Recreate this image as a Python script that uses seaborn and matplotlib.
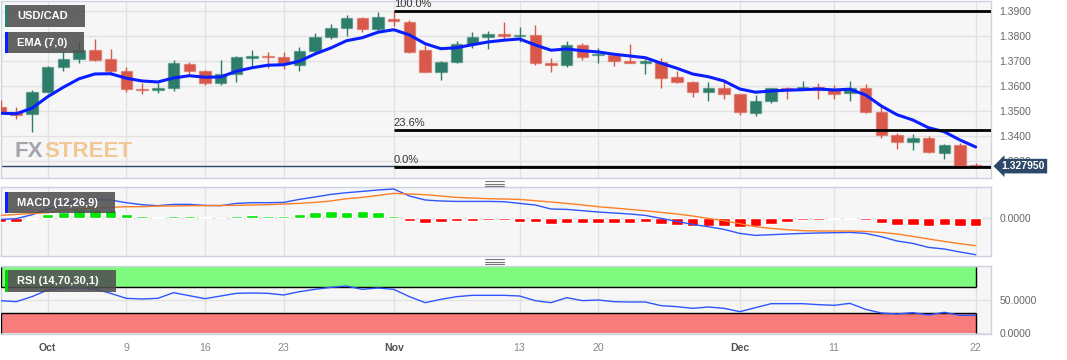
import numpy as np
import pandas as pd
import matplotlib
matplotlib.use("Agg")
import matplotlib.pyplot as plt
import matplotlib.transforms as mtransforms
from matplotlib.patches import Rectangle
from matplotlib.lines import Line2D
from matplotlib.colors import to_rgba
import seaborn as sns

# trading days shown on the chart
dates = pd.bdate_range("2023-09-27", "2023-12-22")

# daily USD/CAD candles
open_px = [1.3515, 1.3495, 1.3487, 1.3576, 1.3676, 1.3707, 1.3744, 1.3707, 1.3661, 1.3589,
           1.3585, 1.3592, 1.3689, 1.3660, 1.3611, 1.3649, 1.3713, 1.3719, 1.3715, 1.3683,
           1.3741, 1.3795, 1.3832, 1.3872, 1.3829, 1.3868, 1.3856, 1.3744, 1.3656, 1.3696,
           1.3767, 1.3797, 1.3809, 1.3800, 1.3804, 1.3692, 1.3683, 1.3763, 1.3723, 1.3725,
           1.3699, 1.3693, 1.3696, 1.3635, 1.3616, 1.3575, 1.3593, 1.3567, 1.3493, 1.3540,
           1.3592, 1.3588, 1.3596, 1.3587, 1.3571, 1.3591, 1.3497, 1.3403, 1.3377, 1.3392,
           1.3333, 1.3365, 1.3285]
high_px = [1.3544, 1.3515, 1.3584, 1.3679, 1.3735, 1.3779, 1.3787, 1.3747, 1.3677, 1.3613,
           1.3613, 1.3703, 1.3697, 1.3664, 1.3703, 1.3720, 1.3743, 1.3735, 1.3737, 1.3755,
           1.3811, 1.3848, 1.3885, 1.3877, 1.3895, 1.3899, 1.3864, 1.3763, 1.3700, 1.3781,
           1.3816, 1.3819, 1.3855, 1.3835, 1.3844, 1.3711, 1.3779, 1.3772, 1.3751, 1.3730,
           1.3768, 1.3708, 1.3712, 1.3661, 1.3621, 1.3616, 1.3621, 1.3568, 1.3563, 1.3593,
           1.3595, 1.3620, 1.3613, 1.3604, 1.3620, 1.3607, 1.3520, 1.3413, 1.3407, 1.3400,
           1.3368, 1.3370, 1.3290]
low_px = [1.3491, 1.3467, 1.3417, 1.3573, 1.3661, 1.3691, 1.3700, 1.3644, 1.3576, 1.3567,
          1.3571, 1.3579, 1.3643, 1.3604, 1.3605, 1.3616, 1.3679, 1.3671, 1.3668, 1.3661,
          1.3733, 1.3788, 1.3800, 1.3815, 1.3813, 1.3841, 1.3731, 1.3655, 1.3625, 1.3691,
          1.3753, 1.3747, 1.3789, 1.3777, 1.3683, 1.3655, 1.3677, 1.3705, 1.3691, 1.3681,
          1.3691, 1.3649, 1.3593, 1.3613, 1.3557, 1.3539, 1.3549, 1.3485, 1.3479, 1.3533,
          1.3547, 1.3584, 1.3549, 1.3549, 1.3540, 1.3493, 1.3392, 1.3347, 1.3345, 1.3333,
          1.3309, 1.3277, 1.3275]
close_px = [1.3497, 1.3485, 1.3576, 1.3676, 1.3707, 1.3744, 1.3704, 1.3661, 1.3589, 1.3583,
            1.3592, 1.3691, 1.3660, 1.3611, 1.3648, 1.3715, 1.3719, 1.3715, 1.3692, 1.3740,
            1.3796, 1.3832, 1.3872, 1.3829, 1.3875, 1.3859, 1.3737, 1.3657, 1.3696, 1.3767,
            1.3796, 1.3808, 1.3800, 1.3804, 1.3693, 1.3683, 1.3764, 1.3715, 1.3728, 1.3699,
            1.3692, 1.3699, 1.3633, 1.3616, 1.3575, 1.3592, 1.3568, 1.3495, 1.3539, 1.3591,
            1.3587, 1.3596, 1.3584, 1.3569, 1.3592, 1.3497, 1.3403, 1.3376, 1.3392, 1.3334,
            1.3365, 1.3280, 1.32795]

# EMA(7) line as drawn on the chart
ema7 = [1.3491, 1.3489, 1.3511, 1.3557, 1.3595, 1.3629, 1.3648, 1.3649, 1.3631, 1.3620,
        1.3616, 1.3632, 1.3641, 1.3635, 1.3636, 1.3659, 1.3673, 1.3683, 1.3685, 1.3699,
        1.3728, 1.3752, 1.3781, 1.3793, 1.3815, 1.3825, 1.3804, 1.3769, 1.3749, 1.3753,
        1.3765, 1.3776, 1.3783, 1.3788, 1.3764, 1.3743, 1.3748, 1.3741, 1.3736, 1.3727,
        1.3720, 1.3713, 1.3691, 1.3671, 1.3648, 1.3637, 1.3620, 1.3588, 1.3575, 1.3580,
        1.3583, 1.3585, 1.3588, 1.3584, 1.3587, 1.3564, 1.3520, 1.3485, 1.3464, 1.3433,
        1.3417, 1.3384, 1.3356]

# MACD (12,26,9)
macd_line = [-0.00017, -0.00010, 0.00030, 0.00083, 0.00137, 0.00170, 0.00180, 0.00177, 0.00150, 0.00130,
             0.00120, 0.00133, 0.00133, 0.00123, 0.00120, 0.00143, 0.00150, 0.00150, 0.00153, 0.00183,
             0.00207, 0.00233, 0.00250, 0.00263, 0.00277, 0.00287, 0.00217, 0.00177, 0.00167, 0.00163,
             0.00163, 0.00163, 0.00160, 0.00143, 0.00127, 0.00087, 0.00083, 0.00070, 0.00057, 0.00047,
             0.00037, 0.00023, -0.00007, -0.00037, -0.00067, -0.00090, -0.00117, -0.00157, -0.00177, -0.00170,
             -0.00163, -0.00157, -0.00153, -0.00150, -0.00147, -0.00157, -0.00190, -0.00233, -0.00257, -0.00297,
             -0.00313, -0.00343, -0.00370]
signal_line = [0.00023, 0.00033, 0.00043, 0.00050, 0.00077, 0.00087, 0.00097, 0.00103, 0.00110, 0.00110,
               0.00117, 0.00117, 0.00120, 0.00120, 0.00123, 0.00123, 0.00127, 0.00130, 0.00137, 0.00143,
               0.00153, 0.00167, 0.00190, 0.00203, 0.00223, 0.00243, 0.00237, 0.00230, 0.00217, 0.00203,
               0.00197, 0.00190, 0.00187, 0.00183, 0.00170, 0.00157, 0.00143, 0.00127, 0.00110, 0.00097,
               0.00083, 0.00070, 0.00053, 0.00037, 0.00017, -0.00007, -0.00030, -0.00060, -0.00090, -0.00107,
               -0.00120, -0.00130, -0.00133, -0.00133, -0.00133, -0.00137, -0.00147, -0.00163, -0.00187, -0.00213,
               -0.00237, -0.00260, -0.00280]
macd_hist = [-0.00040, -0.00043, -0.00013, 0.00033, 0.00060, 0.00083, 0.00085, 0.00073, 0.00040, 0.00020,
             0.00005, 0.00020, 0.00015, 0.00003, -0.00003, 0.00020, 0.00023, 0.00020, 0.00017, 0.00040,
             0.00053, 0.00067, 0.00060, 0.00063, 0.00053, 0.00020, -0.00030, -0.00057, -0.00047, -0.00037,
             -0.00030, -0.00023, -0.00023, -0.00040, -0.00043, -0.00063, -0.00050, -0.00050, -0.00050, -0.00050,
             -0.00050, -0.00047, -0.00067, -0.00073, -0.00083, -0.00083, -0.00083, -0.00097, -0.00087, -0.00063,
             -0.00043, -0.00027, -0.00020, -0.00017, -0.00013, -0.00020, -0.00050, -0.00070, -0.00070, -0.00083,
             -0.00077, -0.00083, -0.00083]

# RSI (14)
rsi = [49, 47.5, 55, 65, 67.5, 68.5, 66.5, 60, 52.5, 51.5,
       52.5, 61, 56.5, 52, 56, 60, 60.5, 60, 57.5, 62.5,
       66, 69, 71, 66, 68, 66, 55, 46, 51, 55,
       57, 57, 57, 56, 49, 46, 53.5, 49, 50, 47.5,
       47, 47, 41.5, 40, 37.5, 39.5, 37.5, 32.5, 38.5, 44.5,
       44.5, 44.5, 43, 42, 45, 36, 30.5, 29, 31, 27.5,
       31.5, 27, 27]

# Fibonacci retracement drawn from Nov 1
fib_start = "2023-11-01"
fib_levels = [1.3899, 1.3424, 1.3277]
fib_labels = ["100.0%", "23.6%", "0.0%"]

price_ticks = [1.33, 1.34, 1.35, 1.36, 1.37, 1.38, 1.39]
tick_dates = ["2023-10-02", "2023-10-09", "2023-10-16", "2023-10-23", "2023-11-01",
              "2023-11-13", "2023-11-20", "2023-12-01", "2023-12-11", "2023-12-22"]
tick_labels = ["Oct", "9", "16", "23", "Nov", "13", "20", "Dec", "11", "22"]

df = pd.DataFrame({"date": dates, "open": open_px, "high": high_px, "low": low_px,
                   "close": close_px, "ema": ema7, "macd": macd_line,
                   "signal": signal_line, "hist": macd_hist, "rsi": rsi})
df["pos"] = np.arange(len(df))
tick_pos = [dates.get_loc(pd.Timestamp(d)) for d in tick_dates]
fib_pos = dates.get_loc(pd.Timestamp(fib_start))

sns.set_style("whitegrid")
plt.rcParams["font.family"] = ["Liberation Sans", "DejaVu Sans"]

W, H = 1067, 360
fig = plt.figure(figsize=(W / 100, H / 100), dpi=100)
fig.patch.set_facecolor("white")


def px_rect(x0, y0, x1, y1):
    return [x0 / W, 1 - y1 / H, (x1 - x0) / W, (y1 - y0) / H]


ax_p = fig.add_axes(px_rect(0.5, 0.7, 990.5, 178))
ax_m = fig.add_axes(px_rect(0.5, 187.3, 990.5, 256))
ax_r = fig.add_axes(px_rect(0.5, 266, 990.5, 334))

GREEN = "#2e7d6b"
RED = "#d8584a"
LINE_BLUE = "#2f55ff"
XMAX = 62.94

for ax in (ax_p, ax_m, ax_r):
    ax.set_facecolor("#f6f6f6")
    for s in ax.spines.values():
        s.set_color("#cdd2e0")
        s.set_linewidth(1)
    ax.grid(True, color="#e2e2e2", linewidth=1)
    ax.set_axisbelow(True)
    ax.set_xlim(0, XMAX)
    ax.set_xticks(tick_pos)
    ax.yaxis.tick_right()
    ax.tick_params(axis="both", length=0, labelsize=7.5, labelcolor="#666666")
    ax.tick_params(axis="y", pad=6.5)

# --- price panel ---
up = df["close"] >= df["open"]
cols = np.where(up, GREEN, RED)
ax_p.vlines(df["pos"], df["low"], df["high"], colors=cols, linewidth=1, zorder=3)
ax_p.bar(df["pos"], df["close"] - df["open"], bottom=df["open"], width=0.73,
         color=cols, edgecolor=[to_rgba(c, 0.45) for c in cols], linewidth=1, zorder=4)
sns.lineplot(x=df["pos"], y=df["ema"], ax=ax_p, color="#0a1fff", linewidth=2.2, zorder=5)

ax_p.axhline(df["close"].iloc[-1], color="#2c4868", linewidth=1, zorder=2)
for lvl, lab in zip(fib_levels, fib_labels):
    ax_p.hlines(lvl, fib_pos, XMAX, color="black", linewidth=2, zorder=6)
    ax_p.annotate(lab, (fib_pos, lvl), xytext=(0, 1.5), textcoords="offset points",
                  ha="left", va="bottom", fontsize=8, color="#333333", zorder=6)

ax_p.set_ylim(1.3232, 1.3941)
ax_p.set_yticks(price_ticks)
ax_p.set_yticklabels([f"{t:.4f}" for t in price_ticks])
ax_p.set_xticklabels([])
ax_p.set_xlabel("")
ax_p.set_ylabel("")

last = df["close"].iloc[-1]
ax_p.text(1.0 + 11 / 990, last, f"{last:.6f}",
          transform=mtransforms.blended_transform_factory(ax_p.transAxes, ax_p.transData),
          ha="left", va="center", color="white", fontsize=7.5, fontweight="bold",
          bbox=dict(boxstyle="larrow,pad=0.22", fc="#2c4868", ec="none"),
          clip_on=False, zorder=10)

# --- MACD panel ---
hcols = np.where(df["hist"] >= 0, "#00e400", "#ff0000")
ax_m.bar(df["pos"], df["hist"], width=0.73, color=hcols, zorder=3)
sns.lineplot(x=df["pos"], y=df["macd"], ax=ax_m, color=LINE_BLUE, linewidth=1, zorder=4)
sns.lineplot(x=df["pos"], y=df["signal"], ax=ax_m, color="#ff7f27", linewidth=1, zorder=4)
ax_m.set_ylim(-0.00383, 0.00304)
ax_m.set_yticks([0])
ax_m.set_yticklabels(["0.0000"])
ax_m.set_xticklabels([])
ax_m.set_xlabel("")
ax_m.set_ylabel("")

# --- RSI panel ---
x0, x1 = df["pos"].iloc[0], df["pos"].iloc[-1]
ax_r.fill_between([x0, x1], 70, 100, color="#7efb7e", linewidth=0, zorder=2)
ax_r.fill_between([x0, x1], 0, 30, color="#f87c7c", linewidth=0, zorder=2)
ax_r.hlines([70, 30], x0, x1, color="black", linewidth=1, zorder=3)
ax_r.vlines([x0, x1], 70, 100, color="black", linewidth=1, zorder=3)
ax_r.vlines([x0, x1], 0, 30, color="black", linewidth=1, zorder=3)
sns.lineplot(x=df["pos"], y=df["rsi"], ax=ax_r, color=LINE_BLUE, linewidth=1, zorder=4)
ax_r.set_ylim(-1, 101)
ax_r.set_yticks([0, 50])
ax_r.set_yticklabels(["0.0000", "50.0000"])
ax_r.set_xticklabels(tick_labels)
ax_r.tick_params(axis="x", pad=6.5, labelsize=7.6, labelcolor="#8a8a8a")
for t in ax_r.get_xticklabels():
    if t.get_text() in ("Oct", "Nov", "Dec"):
        t.set_fontweight("bold")
        t.set_color("#555555")
ax_r.set_xlabel("")
ax_r.set_ylabel("")

# --- overlay labels ---
def label_box(x0, y0, x1, y1, strip, text):
    fig.add_artist(Rectangle((x0 / W, 1 - y1 / H), (x1 - x0) / W, (y1 - y0) / H,
                             transform=fig.transFigure, fc="#4f4f4f", ec="none", alpha=0.88, zorder=5))
    fig.add_artist(Rectangle((x0 / W, 1 - y1 / H), 2.5 / W, (y1 - y0) / H,
                             transform=fig.transFigure, fc=strip, ec="none", zorder=6))
    fig.text((x0 + 12) / W, 1 - (y0 + y1) / 2 / H, text, color="white", fontsize=8,
             fontweight="bold", va="center", ha="left", zorder=7)


label_box(5, 5, 85, 27, "#2e7d6b", "USD/CAD")
label_box(5, 32, 84, 53, "#0a1fff", "EMA (7,0)")
label_box(5, 192, 115, 213, "#0a1fff", "MACD (12,26,9)")
label_box(5, 270, 116, 292, "#00d000", "RSI (14,70,30,1)")

# watermark
fig.text(15 / W, 1 - 157 / H, "FX", color="#9c9ca4", fontsize=16, fontweight="bold",
         va="baseline", ha="left", alpha=0.9)
fig.text(44 / W, 1 - 157 / H, "STREET", color="#f1c28a", fontsize=16, fontweight="bold",
         va="baseline", ha="left", alpha=0.9)

# panel resize handles
for yy in (181, 183.5, 186, 259, 261.5, 264):
    fig.add_artist(Line2D([485 / W, 504 / W], [1 - yy / H, 1 - yy / H],
                          transform=fig.transFigure, color="#777777", linewidth=0.8))

fig.savefig("out.png", dpi=100, facecolor="white")
